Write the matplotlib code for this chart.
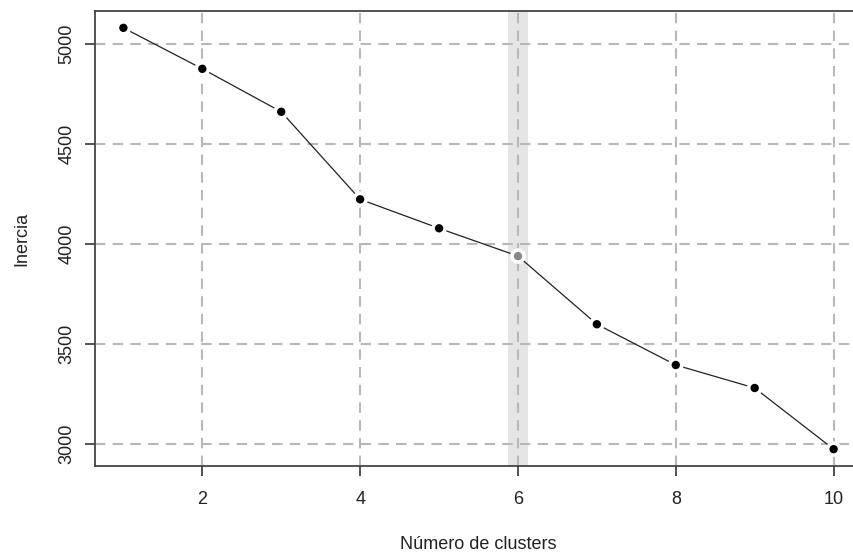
import numpy as np
import matplotlib.pyplot as plt

plt.rcParams['font.family'] = ['Liberation Sans', 'DejaVu Sans']

clusters = [1, 2, 3, 4, 5, 6, 7, 8, 9, 10]
inercia = [5080, 4875, 4660, 4222, 4077, 3938, 3597, 3393, 3278, 2972]
elegido = 6

fig = plt.figure(figsize=(8.54, 5.56), dpi=100)
ax = fig.add_axes([95/854, 1 - 466/556, 767/854, 455/556])

# banda gris en el k elegido
ax.axvspan(elegido - 0.13, elegido + 0.13, color='#e5e5e5', lw=0, zorder=0)

ax.set_xticks([2, 4, 6, 8, 10])
ax.set_yticks([3000, 3500, 4000, 4500, 5000])
ax.grid(True, color='#b8b8b8', linestyle=(0, (5, 3.5)), linewidth=1.5, zorder=1)

ax.plot(clusters, inercia, color='#222222', lw=0.9, zorder=2)
colores = ['#888888' if c == elegido else 'black' for c in clusters]
ax.scatter(clusters, inercia, s=75, c=colores, edgecolors='white',
           linewidths=2.6, zorder=3)

ax.set_xlim(0.64, 10.36)
lo, hi = min(inercia), max(inercia)
pad = (hi - lo) * 0.04
ax.set_ylim(lo - pad, hi + pad)

for s in ax.spines.values():
    s.set_color('#444444')
    s.set_linewidth(1.3)

ax.tick_params(axis='both', direction='out', length=7, width=1.3,
               color='#444444', labelsize=13, labelcolor='#222222')
ax.tick_params(axis='x', pad=11)
ax.tick_params(axis='y', pad=7)
for lab in ax.get_yticklabels():
    lab.set_rotation(90)
    lab.set_va('center')

ax.set_xlabel('Número de clusters', fontsize=13, color='#222222', labelpad=20)
ax.set_ylabel('Inercia', fontsize=13, color='#222222', labelpad=20)

plt.savefig('out.png', dpi=100)
